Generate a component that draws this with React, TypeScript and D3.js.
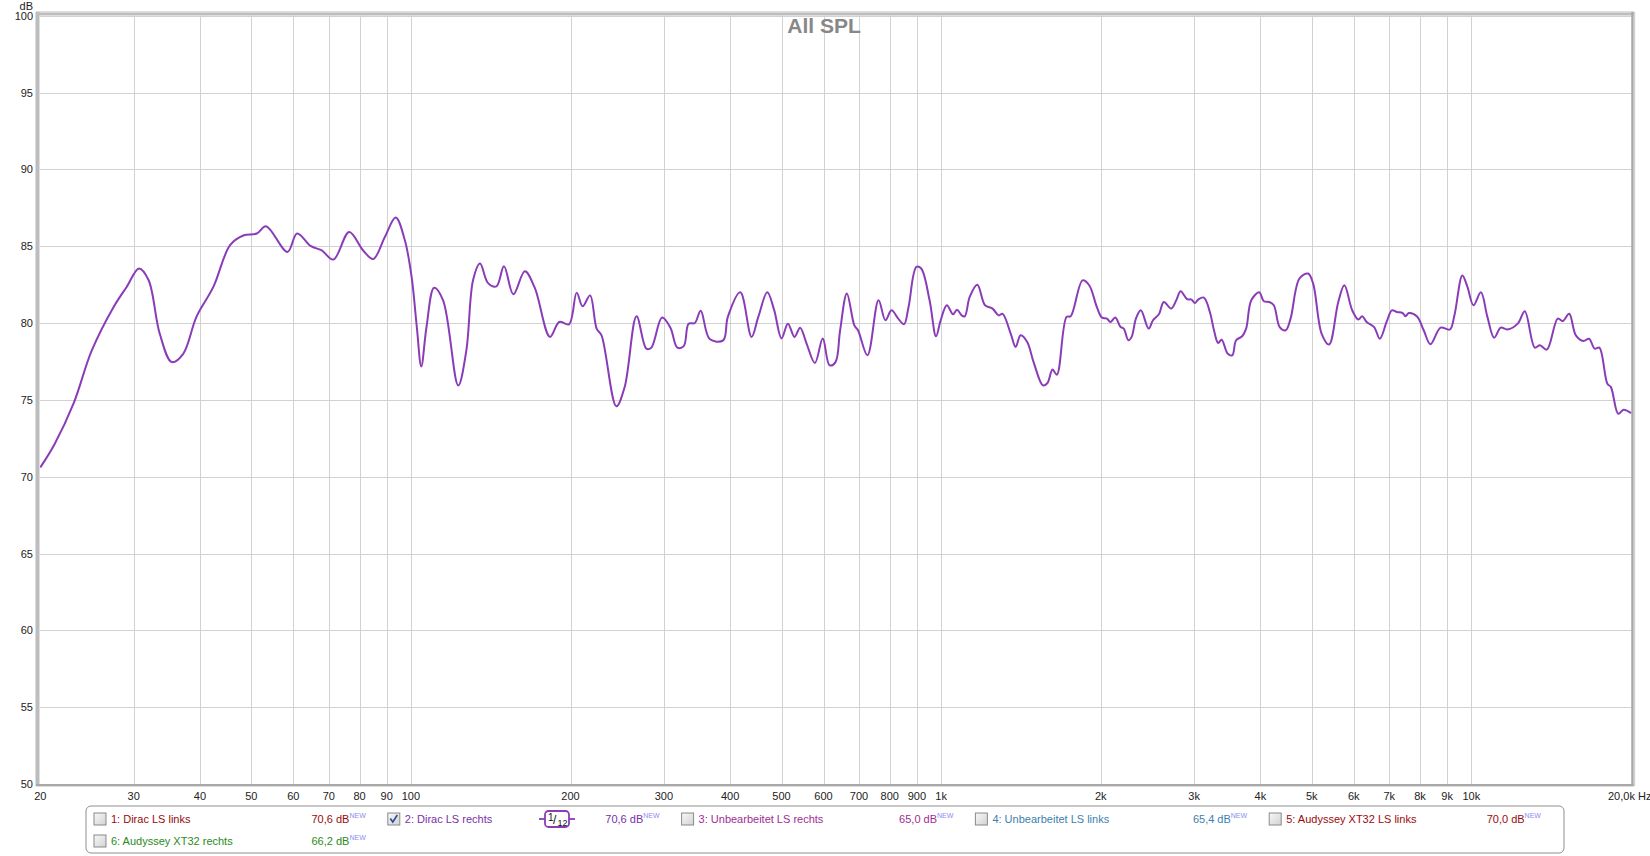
import * as d3 from 'd3'

// Messkurve "2: Dirac LS rechts" (1/12 Oktave geglättet)
const FREQ_HZ = [
  20, 21.3, 23.1, 25, 27.5, 29.1, 30.7, 32, 33.6, 35.4, 37.2, 39.4, 42.4, 45.6, 48.3, 51.2, 53.3, 58.5, 61, 64.8,
  67.8, 71.4, 76.5, 81.2, 84.9, 89.3, 93.6, 97.4, 100.3, 102.6, 104.6, 107, 110.6, 115, 122.8, 127.2, 131, 135,
  139.8, 145, 149.8, 156, 164, 171.2, 182.9, 190.4, 198.7, 205.4, 210.8, 217.7, 224, 228.8, 244, 253, 266.4, 278,
  284, 297.6, 308.6, 318, 327, 334, 343, 352, 366, 388, 396, 418, 439, 452, 470, 484, 500, 514, 529, 542, 557, 578,
  598, 616, 632, 644.7, 664, 686, 697, 726, 762, 785, 806, 830, 851, 868, 898, 917, 951, 978, 998, 1025, 1053, 1071,
  1093, 1108, 1132, 1170, 1210, 1250, 1284, 1306, 1354, 1382, 1412, 1453, 1494, 1556, 1587, 1622, 1653, 1724, 1755,
  1848, 1902, 1966, 2010, 2055, 2085, 2130, 2180, 2210, 2254, 2287, 2330, 2380, 2462, 2509, 2574, 2630, 2716, 2776,
  2829, 2910, 2966, 3010, 3053, 3130, 3212, 3270, 3330, 3380, 3472, 3540, 3600, 3695, 3760, 3845, 3980, 4060, 4155,
  4240, 4350, 4465, 4560, 4740, 4920, 5030, 5220, 5390, 5610, 5760, 5960, 6120, 6225, 6345, 6555, 6720, 6920, 7080,
  7240, 7420, 7510, 7620, 7890, 8130, 8370, 8750, 9110, 9290, 9616, 9830, 10090, 10420, 10720, 11040, 11360, 11690,
  12230, 12610, 13170, 13470, 13880, 14550, 14870, 15290, 15740, 16270, 16670, 17080, 17430, 18050, 18330, 18920,
  19370, 20000,
]
const SPL_DB = [
  70.6, 72.15, 74.75, 78.2, 81.05, 82.35, 83.55, 82.8, 79.3, 77.46, 78.0, 80.4, 82.35, 85.07, 85.7, 85.83, 86.3, 84.63, 85.83, 85.0,
  84.74, 84.13, 85.93, 84.74, 84.17, 85.6, 86.87, 85.39, 83.0, 79.74, 77.18, 79.74, 82.3, 81.48, 75.94, 78.2, 82.8, 83.87,
  82.6, 82.39, 83.7, 81.87, 83.37, 82.3, 79.1, 80.07, 79.92, 81.98, 81.09, 81.8, 79.64, 79.2, 74.58, 75.84, 80.44, 78.33,
  78.4, 80.36, 79.7, 78.4, 78.5, 79.96, 80.0, 80.8, 78.96, 78.87, 80.4, 82.0, 79.1, 80.4, 82.0, 80.87, 79.0, 79.96, 79.1, 79.7, 78.7, 77.4,
  79.0, 77.25, 77.46, 79.5, 81.93, 79.85, 79.53, 77.9, 81.48, 80.18, 80.83, 80.29, 79.92, 81.05, 83.65, 83.55, 81.48, 79.14, 80.18, 81.16, 80.57, 80.87,
  80.5, 80.44, 81.7, 82.5, 81.16, 80.94, 80.5, 80.6, 79.26, 78.44, 79.2, 78.77, 77.46, 75.94, 76.1, 76.97, 76.64, 80.4, 80.44,
  82.78, 82.46, 81.05, 80.36, 80.29, 80.07, 80.36, 79.74, 79.64, 78.88, 79.1, 80.29, 80.83, 79.64, 80.18, 80.57, 81.37, 80.94, 81.48,
  82.07, 81.55, 81.53, 81.3, 81.53, 81.66, 80.72, 79.53, 78.7, 78.92, 78.0, 77.9, 78.88, 79.14, 79.64, 81.48, 82.0, 81.42, 81.37,
  81.16, 79.74, 79.53, 80.29, 82.9, 83.22, 82.57, 79.3, 78.6, 81.37, 82.46, 80.83, 80.23, 80.44, 80.07, 79.74, 78.98, 80.07, 80.83,
  80.72, 80.65, 80.44, 80.65, 80.44, 79.53, 78.62, 79.7, 79.58, 80.5, 83.1, 82.35, 81.16, 82.0, 80.4, 79.05, 79.7, 79.58,
  79.96, 80.77, 78.4, 78.55, 78.27, 80.29, 80.13, 80.61, 79.2, 78.83, 78.98, 78.33, 78.4, 76.05, 75.83, 74.1,
  74.36, 74.14,
]

const Y_TICKS = [50, 55, 60, 65, 70, 75, 80, 85, 90, 95, 100]
const X_TICK_HZ = [20, 30, 40, 50, 60, 70, 80, 90, 100, 200, 300, 400, 500, 600, 700, 800, 900,
  1000, 2000, 3000, 4000, 5000, 6000, 7000, 8000, 9000, 10000]
const X_TICK_LABELS = ['20', '30', '40', '50', '60', '70', '80', '90', '100', '200', '300', '400', '500', '600',
  '700', '800', '900', '1k', '2k', '3k', '4k', '5k', '6k', '7k', '8k', '9k', '10k']

const LEGEND_NAMES = ['1: Dirac LS links', '2: Dirac LS rechts', '3: Unbearbeitet LS rechts',
  '4: Unbearbeitet LS links', '5: Audyssey XT32 LS links', '6: Audyssey XT32 rechts']
const LEGEND_LEVELS = ['70,6 dB', '70,6 dB', '65,0 dB', '65,4 dB', '70,0 dB', '66,2 dB']
const LEGEND_CHECKED = [false, true, false, false, false, false]
const LEGEND_COLORS = ['#9a0a0a', '#7a2fa8', '#a02c94', '#3b7fae', '#9a0a0a', '#2a8a22']

const W = 1650
const H = 856
const PLOT = { left: 40, right: 1632, top: 15.75, bottom: 784 }
const LINE_COLOR = '#8a3cb8'
const FONT = '"Liberation Sans", Arial, sans-serif'

export default function App() {
  const x = d3.scaleLog().domain([20, 20000]).range([40.3, 1631])
  const y = d3.scaleLinear().domain([50, 100]).range([PLOT.bottom, PLOT.top])

  const points = FREQ_HZ.map((f, i) => [f, SPL_DB[i]] as [number, number])
  const line = d3.line<[number, number]>()
    .x(d => x(d[0]))
    .y(d => y(d[1]))
    .curve(d3.curveCatmullRom.alpha(0.5))

  const colX = (i: number) => 111 + (i % 5) * 293.8
  const rowY = (i: number) => (i < 5 ? 823 : 845)

  return (
    <svg width={W} height={H} style={{ position: 'absolute', left: 0, top: 0, background: '#fff' }}
      fontFamily={FONT}>
      <defs>
        <clipPath id="plotClip">
          <rect x={PLOT.left} y={PLOT.top - 2} width={PLOT.right - PLOT.left} height={PLOT.bottom - PLOT.top + 2} />
        </clipPath>
        <linearGradient id="cb" x1="0" y1="0" x2="1" y2="1">
          <stop offset="0" stopColor="#f8f8f8" />
          <stop offset="1" stopColor="#d2d2d2" />
        </linearGradient>
      </defs>

      {/* Gitter */}
      <g stroke="#d2d2d2" strokeWidth={1}>
        {Y_TICKS.map(t => (
          <line key={t} x1={PLOT.left} x2={PLOT.right} y1={Math.round(y(t)) + 0.5} y2={Math.round(y(t)) + 0.5} />
        ))}
        {X_TICK_HZ.slice(1).map(f => (
          <line key={f} x1={Math.round(x(f)) + 0.5} x2={Math.round(x(f)) + 0.5} y1={PLOT.top} y2={PLOT.bottom} />
        ))}
      </g>

      {/* Titel */}
      <text x={824} y={33} textAnchor="middle" fontSize={21} fontWeight="bold" fill="#878787">All SPL</text>

      {/* Rahmen */}
      <g fill="none">
        <line x1={36} x2={1634} y1={13.5} y2={13.5} stroke="#bdbdbd" strokeWidth={4} />
        <line x1={36} x2={1634} y1={12.5} y2={12.5} stroke="#d8d8d8" strokeWidth={1} />
        <line x1={37.5} x2={37.5} y1={12} y2={786} stroke="#bdbdbd" strokeWidth={4} />
        <line x1={35.5} x2={35.5} y1={12} y2={786} stroke="#dcdcdc" strokeWidth={1} />
        <line x1={36} x2={1634} y1={785} y2={785} stroke="#a8a8a8" strokeWidth={2} />
        <line x1={36} x2={1634} y1={786.5} y2={786.5} stroke="#dedede" strokeWidth={1} />
        <line x1={1632.5} x2={1632.5} y1={12} y2={786} stroke="#a8a8a8" strokeWidth={2.5} />
        <line x1={1634.5} x2={1634.5} y1={12} y2={786} stroke="#d4d4d4" strokeWidth={1.5} />
      </g>

      {/* Kurve */}
      <path d={line(points) ?? ''} fill="none" stroke={LINE_COLOR} strokeWidth={2}
        strokeLinejoin="round" clipPath="url(#plotClip)" />

      {/* Y-Achse */}
      <g fontSize={11} fill="#222" textAnchor="end">
        <text x={33} y={10}>dB</text>
        {Y_TICKS.map(t => (
          <text key={t} x={33} y={y(t) + 4}>{t}</text>
        ))}
      </g>

      {/* X-Achse */}
      <g fontSize={11} fill="#222" textAnchor="middle">
        {X_TICK_HZ.map((f, i) => (
          <text key={f} x={x(f)} y={800}>{X_TICK_LABELS[i]}</text>
        ))}
        <text x={1608} y={800} textAnchor="start">20,0k Hz</text>
      </g>

      {/* Legende */}
      <rect x={86} y={806} width={1478} height={47} rx={5} fill="#fff" stroke="#8e8e8e" strokeWidth={1} />
      <g fontSize={11}>
        {LEGEND_NAMES.map((name, i) => {
          const tx = colX(i)
          const ty = rowY(i)
          return (
            <g key={name}>
              <rect x={tx - 17} y={ty - 10} width={12} height={12} fill="url(#cb)" stroke="#8a8a8a" />
              {LEGEND_CHECKED[i] && (
                <path d={`M${tx - 14.5},${ty - 4.5} L${tx - 12},${ty - 1} L${tx - 7.5},${ty - 8}`}
                  fill="none" stroke="#2c4c94" strokeWidth={1.6} />
              )}
              <text x={tx} y={ty} fill={LEGEND_COLORS[i]}>{name}</text>
              <text x={tx + 200.5} y={ty} fill={LEGEND_COLORS[i]}>
                {LEGEND_LEVELS[i]}
                <tspan dy={-5} fontSize={7} fill="#8c8cf0">NEW</tspan>
              </text>
            </g>
          )
        })}
        {/* Glättungssymbol */}
        <g stroke={LINE_COLOR} strokeWidth={1.8} fill="#fff">
          <line x1={539} x2={545} y1={819} y2={819} />
          <line x1={569} x2={575} y1={819} y2={819} />
          <rect x={545} y={811} width={24} height={16} rx={3.5} />
        </g>
        <text x={548} y={821} fontSize={10} fill="#111">1</text>
        <text x={553} y={824} fontSize={12} fill="#111">/</text>
        <text x={557.5} y={826} fontSize={9} fill="#111">12</text>
      </g>
    </svg>
  )
}
